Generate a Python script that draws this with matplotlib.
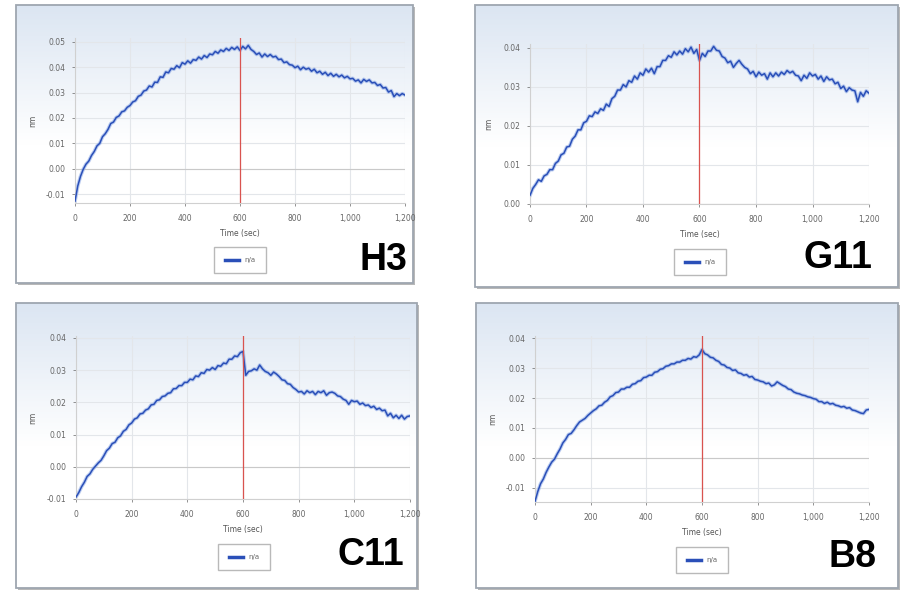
import numpy as np
import matplotlib.pyplot as plt
from matplotlib.patches import Rectangle
from matplotlib.lines import Line2D
from matplotlib.ticker import FuncFormatter

# time axis (sec), one reading every 10 s
t = np.arange(0, 1201, 10)

h3 = [-0.0128, -0.0068, -0.0030, -0.0002, 0.0018, 0.0030, 0.0052, 0.0068, 0.0090, 0.0100,
      0.0126, 0.0138, 0.0155, 0.0178, 0.0184, 0.0202, 0.0208, 0.0224, 0.0228, 0.0242,
      0.0249, 0.0263, 0.0268, 0.0285, 0.0290, 0.0306, 0.0310, 0.0326, 0.0322, 0.0341,
      0.0340, 0.0362, 0.0360, 0.0381, 0.0378, 0.0395, 0.0392, 0.0406, 0.0398, 0.0418,
      0.0412, 0.0425, 0.0416, 0.0430, 0.0427, 0.0440, 0.0432, 0.0446, 0.0438, 0.0452,
      0.0449, 0.0462, 0.0455, 0.0468, 0.0462, 0.0474, 0.0466, 0.0478, 0.0470, 0.0480,
      0.0466, 0.0482, 0.0472, 0.0486, 0.0470, 0.0462, 0.0450, 0.0456, 0.0440, 0.0452,
      0.0442, 0.0450, 0.0440, 0.0443, 0.0430, 0.0432, 0.0418, 0.0421, 0.0410, 0.0408,
      0.0398, 0.0404, 0.0390, 0.0400, 0.0392, 0.0396, 0.0384, 0.0392, 0.0378, 0.0384,
      0.0372, 0.0380, 0.0367, 0.0376, 0.0364, 0.0372, 0.0362, 0.0369, 0.0358, 0.0364,
      0.0354, 0.0356, 0.0345, 0.0350, 0.0338, 0.0352, 0.0344, 0.0350, 0.0338, 0.0340,
      0.0328, 0.0332, 0.0318, 0.0320, 0.0302, 0.0308, 0.0284, 0.0296, 0.0288, 0.0296,
      0.0290]

g11 = [0.0022, 0.0040, 0.0050, 0.0062, 0.0058, 0.0072, 0.0076, 0.0088, 0.0088, 0.0104,
       0.0110, 0.0126, 0.0130, 0.0146, 0.0148, 0.0166, 0.0174, 0.0190, 0.0190, 0.0208,
       0.0212, 0.0226, 0.0224, 0.0236, 0.0232, 0.0244, 0.0240, 0.0256, 0.0250, 0.0270,
       0.0276, 0.0292, 0.0292, 0.0306, 0.0300, 0.0316, 0.0312, 0.0328, 0.0320, 0.0336,
       0.0330, 0.0346, 0.0338, 0.0348, 0.0334, 0.0352, 0.0352, 0.0368, 0.0368, 0.0380,
       0.0376, 0.0390, 0.0382, 0.0392, 0.0384, 0.0398, 0.0390, 0.0402, 0.0386, 0.0396,
       0.0368, 0.0386, 0.0378, 0.0392, 0.0392, 0.0404, 0.0394, 0.0392, 0.0378, 0.0374,
       0.0362, 0.0366, 0.0350, 0.0360, 0.0368, 0.0358, 0.0350, 0.0346, 0.0334, 0.0340,
       0.0326, 0.0338, 0.0330, 0.0334, 0.0320, 0.0336, 0.0326, 0.0336, 0.0328, 0.0338,
       0.0332, 0.0342, 0.0336, 0.0340, 0.0330, 0.0328, 0.0316, 0.0330, 0.0322, 0.0336,
       0.0328, 0.0332, 0.0320, 0.0328, 0.0314, 0.0326, 0.0318, 0.0320, 0.0308, 0.0312,
       0.0296, 0.0302, 0.0288, 0.0298, 0.0292, 0.0290, 0.0262, 0.0286, 0.0276, 0.0290,
       0.0284]

c11 = [-0.0094, -0.0080, -0.0062, -0.0048, -0.0030, -0.0022, -0.0008, 0.0002, 0.0012, 0.0020,
       0.0034, 0.0050, 0.0058, 0.0072, 0.0076, 0.0090, 0.0096, 0.0110, 0.0116, 0.0130,
       0.0136, 0.0148, 0.0152, 0.0164, 0.0166, 0.0176, 0.0180, 0.0192, 0.0194, 0.0206,
       0.0208, 0.0218, 0.0220, 0.0228, 0.0230, 0.0242, 0.0243, 0.0252, 0.0252, 0.0262,
       0.0262, 0.0272, 0.0270, 0.0282, 0.0280, 0.0292, 0.0290, 0.0302, 0.0300, 0.0308,
       0.0302, 0.0314, 0.0312, 0.0322, 0.0320, 0.0334, 0.0334, 0.0344, 0.0342, 0.0354,
       0.0358, 0.0284, 0.0296, 0.0298, 0.0304, 0.0300, 0.0316, 0.0304, 0.0296, 0.0292,
       0.0284, 0.0294, 0.0288, 0.0280, 0.0270, 0.0268, 0.0258, 0.0256, 0.0246, 0.0240,
       0.0232, 0.0234, 0.0226, 0.0236, 0.0230, 0.0234, 0.0224, 0.0234, 0.0230, 0.0236,
       0.0222, 0.0230, 0.0232, 0.0228, 0.0220, 0.0218, 0.0210, 0.0206, 0.0194, 0.0206,
       0.0202, 0.0204, 0.0194, 0.0198, 0.0190, 0.0192, 0.0184, 0.0188, 0.0178, 0.0182,
       0.0174, 0.0176, 0.0158, 0.0166, 0.0152, 0.0160, 0.0150, 0.0160, 0.0148, 0.0156,
       0.0158]

b8 = [-0.0145, -0.0112, -0.0086, -0.0070, -0.0048, -0.0030, -0.0014, -0.0004, 0.0014, 0.0030,
      0.0050, 0.0062, 0.0078, 0.0082, 0.0094, 0.0108, 0.0120, 0.0126, 0.0132, 0.0142,
      0.0150, 0.0158, 0.0164, 0.0174, 0.0176, 0.0186, 0.0192, 0.0204, 0.0208, 0.0218,
      0.0220, 0.0230, 0.0230, 0.0236, 0.0236, 0.0246, 0.0248, 0.0256, 0.0258, 0.0268,
      0.0270, 0.0276, 0.0276, 0.0286, 0.0288, 0.0296, 0.0298, 0.0306, 0.0308, 0.0314,
      0.0314, 0.0320, 0.0320, 0.0326, 0.0326, 0.0332, 0.0330, 0.0338, 0.0336, 0.0344,
      0.0362, 0.0348, 0.0344, 0.0336, 0.0334, 0.0326, 0.0322, 0.0312, 0.0310, 0.0302,
      0.0300, 0.0292, 0.0294, 0.0284, 0.0282, 0.0276, 0.0278, 0.0270, 0.0272, 0.0262,
      0.0260, 0.0256, 0.0254, 0.0248, 0.0250, 0.0240, 0.0244, 0.0254, 0.0248, 0.0242,
      0.0238, 0.0230, 0.0228, 0.0220, 0.0216, 0.0214, 0.0210, 0.0208, 0.0204, 0.0202,
      0.0198, 0.0196, 0.0188, 0.0188, 0.0182, 0.0186, 0.0180, 0.0182, 0.0176, 0.0174,
      0.0170, 0.0172, 0.0166, 0.0168, 0.0160, 0.0158, 0.0154, 0.0150, 0.0148, 0.0160,
      0.0162]

names = ['H3', 'G11', 'C11', 'B8']
series = [h3, g11, c11, b8]
xticks = [0, 200, 400, 600, 800, 1000, 1200]
legend_label = 'n/a'

W, H = 903, 592


def frac(l, top, r, b):
    # pixel box (left, top, right, bottom) -> figure fraction rect
    return [l / W, 1 - b / H, (r - l) / W, (b - top) / H]


# layout for each panel, in pixels
layout = {
    'H3':  dict(box=(16, 5, 413, 283), plot=(75, 38, 405, 203), ylim=(-0.0135, 0.0515),
                yt=(-0.01, 0.05), leg=(240, 260), lab=(407, 270), ylab=37),
    'G11': dict(box=(475, 5, 898, 287), plot=(530, 44, 869, 204), ylim=(0.0, 0.041),
                yt=(0.0, 0.04), leg=(700, 262), lab=(872, 268), ylab=493),
    'C11': dict(box=(16, 303, 417, 588), plot=(76, 336, 410, 499), ylim=(-0.01, 0.0406),
                yt=(-0.01, 0.04), leg=(244, 557), lab=(404, 565), ylab=37),
    'B8':  dict(box=(476, 303, 898, 588), plot=(535, 336, 869, 502), ylim=(-0.0147, 0.0407),
                yt=(-0.01, 0.04), leg=(702, 560), lab=(877, 567), ylab=497),
}

blue = '#2a4fb8'
halo = '#8eaae6'

fig = plt.figure(figsize=(W / 100, H / 100), dpi=100)
fig.patch.set_facecolor('white')

# gradient for panel backgrounds
g = np.linspace(0, 1, 200)[:, None]
w = np.clip(g / 0.5, 0, 1)[..., None]
top_col = np.array([0.86, 0.90, 0.95])
grad = top_col * (1 - w) + np.ones(3) * w

for name, y in zip(names, series):
    L = layout[name]
    bl, bt, br, bb = L['box']

    # shadow + framed gradient box
    sh = fig.add_axes(frac(bl + 2, bt + 2, br + 2, bb + 2))
    sh.axis('off')
    sh.add_patch(Rectangle((0, 0), 1, 1, transform=sh.transAxes, facecolor='#b8b8b8',
                           edgecolor='none'))
    bg = fig.add_axes(frac(bl, bt, br, bb))
    bg.imshow(grad, extent=[0, 1, 0, 1], aspect='auto')
    bg.set_xlim(0, 1)
    bg.set_ylim(0, 1)
    bg.axis('off')
    bg.add_patch(Rectangle((0, 0), 1, 1, transform=bg.transAxes, facecolor='none',
                           edgecolor='#9ea6b0', lw=1.3, clip_on=False))

    pl, pt, pr, pb = L['plot']
    ax = fig.add_axes(frac(pl, pt, pr, pb))
    ax.set_facecolor('none')
    ax.grid(color='#e3e6ea', lw=0.8)
    ax.set_axisbelow(True)
    ax.axhline(0, color='#c9c9c9', lw=0.8, zorder=1)

    ax.plot(t, y, color=halo, lw=2.6, alpha=0.6, zorder=2)
    ax.plot(t, y, color=blue, lw=1.1, zorder=3)
    ax.axvline(600, color='#d9534f', lw=0.9, zorder=4)

    ax.set_xlim(0, 1200)
    ax.set_ylim(*L['ylim'])
    ax.set_xticks(xticks)
    ax.xaxis.set_major_formatter(FuncFormatter(lambda v, p: f'{int(v):,}'))
    lo, hi = L['yt']
    ax.set_yticks(np.round(np.arange(lo, hi + 0.001, 0.01), 2))
    ax.yaxis.set_major_formatter(FuncFormatter(lambda v, p: f'{v:.2f}'))
    ax.tick_params(labelsize=5.5, colors='#666666', length=2, width=0.5, pad=6)
    ax.tick_params(axis='y', pad=5)
    for s in ['top', 'right']:
        ax.spines[s].set_visible(False)
    for s in ['left', 'bottom']:
        ax.spines[s].set_color('#d0d0d0')
        ax.spines[s].set_linewidth(0.8)

    ax.set_xlabel('Time (sec)', fontsize=5.5, color='#555555')
    ax.xaxis.set_label_coords(0.5, -(26) / (pb - pt))
    ax.set_ylabel('nm', fontsize=5.5, color='#555555')
    ax.yaxis.set_label_coords((L['ylab'] - pl) / (pr - pl), 0.5)

    lx, ly = L['leg']
    ax.legend(handles=[Line2D([], [], color=blue, lw=2.5)], labels=[legend_label],
              loc='center', bbox_to_anchor=(lx / W, 1 - ly / H),
              bbox_transform=fig.transFigure, fontsize=5, frameon=True, fancybox=False,
              edgecolor='#a8a8a8', handlelength=2.0, borderpad=1.5, handletextpad=0.8,
              labelcolor='#666666')

    fx, fy = L['lab']
    fig.text(fx / W, 1 - fy / H, name, ha='right', va='baseline', fontsize=27,
             fontweight='bold', family='Liberation Sans', color='black')

fig.savefig('out.png', dpi=100, facecolor='white')
